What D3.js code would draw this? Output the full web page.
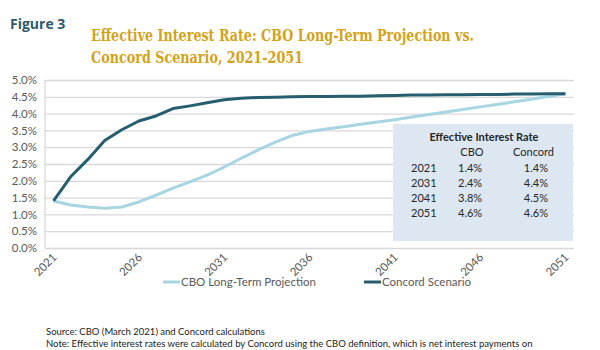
<!DOCTYPE html>
<html>
<head>
<meta charset="utf-8">
<script src="https://cdn.jsdelivr.net/npm/d3@7"></script>
<style>
  body { margin: 0; background: #fff; }
  svg { display: block; }
</style>
</head>
<body>
<div id="chart"></div>
<script>
// Years on the category axis
const years = d3.range(2021, 2052);

// CBO long-term projection (%)
const cboValues = [1.40, 1.28, 1.22, 1.18, 1.22, 1.37, 1.57, 1.78, 1.97, 2.17,
                   2.41, 2.67, 2.92, 3.15, 3.35, 3.47, 3.54, 3.61, 3.68, 3.75,
                   3.82, 3.90, 3.97, 4.05, 4.12, 4.20, 4.27, 4.35, 4.43, 4.51, 4.59];

// Concord scenario (%)
const concordValues = [1.40, 2.12, 2.63, 3.20, 3.52, 3.78, 3.93, 4.15, 4.23, 4.32,
                       4.41, 4.46, 4.48, 4.49, 4.50, 4.51, 4.51, 4.52, 4.52, 4.53,
                       4.54, 4.55, 4.55, 4.56, 4.56, 4.57, 4.57, 4.58, 4.58, 4.59, 4.59];

const yTicks = [0, 0.5, 1, 1.5, 2, 2.5, 3, 3.5, 4, 4.5, 5];
const xTickYears = [2021, 2026, 2031, 2036, 2041, 2046, 2051];

// Inset table
const tableYears = ["2021", "2031", "2041", "2051"];
const tableCBO = ["1.4%", "2.4%", "3.8%", "4.6%"];
const tableConcord = ["1.4%", "4.4%", "4.5%", "4.6%"];

const seriesNames = ["CBO Long-Term Projection", "Concord Scenario"];
const seriesColors = ["#a8d5e2", "#265e6f"];

const width = 600, height = 350;
const margins = {top: 80, right: 26, bottom: 102, left: 45};
const bodyFont = "Lato, 'Open Sans', sans-serif";

const svg = d3.select("#chart")
    .append("svg")
    .attr("width", width)
    .attr("height", height);

/* Scales */
const xScale = d3.scalePoint()
    .domain(years)
    .range([margins.left, width - margins.right])
    .padding(0.5);
const yScale = d3.scaleLinear()
    .domain([0, 5])
    .range([height - margins.bottom, margins.top]);

// Header texts
svg.append("text")
    .attr("x", 10)
    .attr("y", 29)
    .style("font-family", "'Open Sans', sans-serif")
    .style("font-weight", "bold")
    .style("font-size", "14px")
    .style("fill", "#2b5a6c")
    .text("Figure 3");

const titleLines = ["Effective Interest Rate: CBO Long-Term Projection vs.",
                    "Concord Scenario, 2021-2051"];
const titleWidths = [383, 212];
svg.selectAll("text.title")
    .data(titleLines)
    .join("text")
    .attr("class", "title")
    .attr("x", 91)
    .attr("y", (d, i) => 41 + i * 22)
    .attr("textLength", (d, i) => titleWidths[i])
    .attr("lengthAdjust", "spacingAndGlyphs")
    .style("font-family", "'DejaVu Serif', serif")
    .style("font-weight", "bold")
    .style("font-size", "16px")
    .style("fill", "#d4a21a")
    .text(d => d);

/* Gridlines and y axis */
const yAxis = d3.axisLeft(yScale)
    .tickValues(yTicks)
    .tickSize(-(width - margins.left - margins.right))
    .tickPadding(8)
    .tickFormat(d => d.toFixed(1) + "%");

svg.append("g")
    .attr("transform", `translate(${margins.left},0)`)
    .call(yAxis)
    .call(g => g.select(".domain").remove())
    .call(g => g.selectAll(".tick line").attr("stroke", "#d9d9d9").attr("stroke-width", 1.3))
    .call(g => g.selectAll(".tick text")
        .style("font-family", bodyFont)
        .style("font-size", "11.5px")
        .style("fill", "#595959"));

// Left axis line
svg.append("line")
    .attr("x1", margins.left).attr("x2", margins.left)
    .attr("y1", yScale(5)).attr("y2", yScale(0))
    .attr("stroke", "#d9d9d9")
    .attr("stroke-width", 1.3);

/* Inset table box (drawn under the lines) */
const box = {x: 393, y: 124, w: 180, h: 117};
svg.append("rect")
    .attr("x", box.x).attr("y", box.y)
    .attr("width", box.w).attr("height", box.h)
    .attr("fill", "#dde7f2");

/* Lines */
const line = d3.line()
    .x((d, i) => xScale(years[i]))
    .y(d => yScale(d));

svg.selectAll("path.series")
    .data([cboValues, concordValues])
    .join("path")
    .attr("class", "series")
    .attr("d", d => line(d))
    .attr("fill", "none")
    .attr("stroke", (d, i) => seriesColors[i])
    .attr("stroke-width", 3)
    .attr("stroke-linejoin", "round");

/* X axis labels, rotated */
svg.selectAll("text.xlabel")
    .data(xTickYears)
    .join("text")
    .attr("class", "xlabel")
    .attr("text-anchor", "end")
    .attr("transform", d => `translate(${xScale(d) + 4},${yScale(0) + 10}) rotate(-45)`)
    .style("font-family", bodyFont)
    .style("font-size", "11.5px")
    .style("fill", "#595959")
    .text(d => d);

/* Table text */
const tableText = (x, y, txt, anchor, bold) => svg.append("text")
    .attr("x", x).attr("y", y)
    .attr("text-anchor", anchor)
    .style("font-family", bodyFont)
    .style("font-size", "11px")
    .style("font-weight", bold ? "bold" : "normal")
    .style("fill", "#262626")
    .text(txt);

tableText(484, 141, "Effective Interest Rate", "middle", true);
tableText(472, 156, "CBO", "middle", false);
tableText(554, 156, "Concord", "end", false);
tableYears.forEach((yr, i) => {
    const y = 172 + i * 15;
    tableText(411, y, yr, "start", false);
    tableText(458, y, tableCBO[i], "start", false);
    tableText(548, y, tableConcord[i], "end", false);
});

/* Legend */
const legendItems = [{x: 163}, {x: 364}];
const legend = svg.selectAll("g.legend")
    .data(seriesNames)
    .join("g")
    .attr("class", "legend")
    .attr("transform", (d, i) => `translate(${legendItems[i].x},282)`);
legend.append("line")
    .attr("x1", 0).attr("x2", 17)
    .attr("stroke", (d, i) => seriesColors[i])
    .attr("stroke-width", 3);
legend.append("text")
    .attr("x", 18)
    .attr("dy", "0.35em")
    .style("font-family", bodyFont)
    .style("font-size", "11.5px")
    .style("fill", "#595959")
    .text(d => d);

/* Footer notes */
const notes = ["Source: CBO (March 2021) and Concord calculations",
               "Note: Effective interest rates were calculated by Concord using  the CBO definition, which is net interest payments on"];
svg.selectAll("text.note")
    .data(notes)
    .join("text")
    .attr("class", "note")
    .attr("x", 46)
    .attr("y", (d, i) => 335 + i * 12)
    .style("font-family", bodyFont)
    .style("font-size", "9.5px")
    .style("fill", "#222")
    .text(d => d);
</script>
</body>
</html>
